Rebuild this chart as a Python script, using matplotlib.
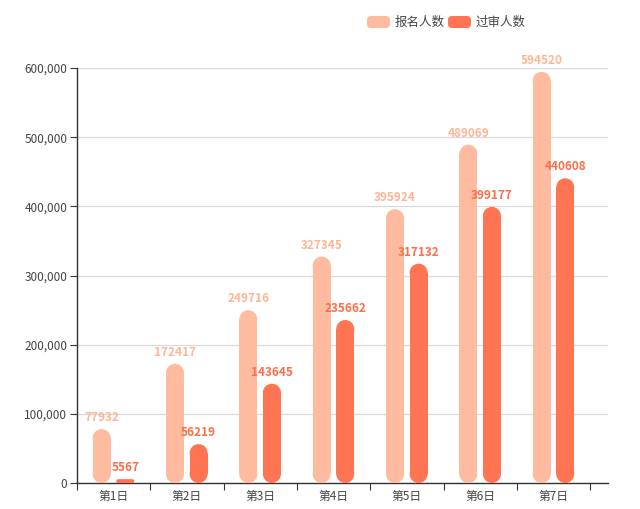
import matplotlib
matplotlib.use("Agg")
import matplotlib.pyplot as plt
from matplotlib.patches import FancyBboxPatch, Rectangle, Ellipse
from matplotlib.ticker import FuncFormatter, FixedLocator
import numpy as np

plt.rcParams['font.family'] = ['Noto Sans CJK SC', 'DejaVu Sans']

days = ['第1日', '第2日', '第3日', '第4日', '第5日', '第6日', '第7日']
signup = [77932, 172417, 249716, 327345, 395924, 489069, 594520]
approved = [5567, 56219, 143645, 235662, 317132, 399177, 440608]
series_names = ['报名人数', '过审人数']

c_light = '#FFBBA0'
c_dark = '#FF7452'
c_light_txt = '#FFB496'
c_dark_txt = '#FF6C48'

W, H = 640, 509
fig = plt.figure(figsize=(W / 100, H / 100), dpi=100)
x0, x1, y0, y1 = 77, 608, 483, 68
ax = fig.add_axes([x0 / W, (H - y0) / H, (x1 - x0) / W, (y0 - y1) / H])

cat_px = 73.33
xmax = (x1 - x0) / cat_px - 0.5
ax.set_xlim(-0.5, xmax)
ax.set_ylim(0, 600000)

# units per pixel
ux = 1 / cat_px
uy = 600000 / (y0 - y1)

bw_px = 18
bw = bw_px * ux
offs = [-12 * ux, 11.6 * ux]
rad_px = bw_px / 2


def pill(xc, val, color):
    h_px = val / uy
    if h_px < 2 * rad_px:
        # too short for full caps: small rounded rect
        r = h_px / 2
        p = FancyBboxPatch((xc - bw / 2, 0), bw, val,
                           boxstyle=f"round,pad=0,rounding_size={r * ux}",
                           mutation_aspect=uy / ux, fc=color, ec='none', zorder=3)
        ax.add_patch(p)
        return
    ry = rad_px * uy
    ax.add_patch(Rectangle((xc - bw / 2, ry), bw, val - 2 * ry,
                           fc=color, ec='none', zorder=3))
    for cy in (ry, val - ry):
        ax.add_patch(Ellipse((xc, cy), bw, 2 * ry, fc=color, ec='none', zorder=3))


for i in range(len(days)):
    for vals, off, col, tcol in [(signup, offs[0], c_light, c_light_txt),
                                 (approved, offs[1], c_dark, c_dark_txt)]:
        xc = i + off
        pill(xc, vals[i], col)
        ax.text(xc, vals[i] + 5 * uy, str(vals[i]), ha='center', va='bottom',
                color=tcol, fontsize=8.5, fontweight='bold', zorder=4)

ax.yaxis.set_major_locator(FixedLocator(np.arange(0, 600001, 100000)))
ax.yaxis.set_major_formatter(FuncFormatter(lambda v, p: f'{int(v):,}'))
ax.grid(axis='y', color='#d9d9d9', linewidth=0.9, zorder=0)
ax.set_axisbelow(True)

ax.set_xticks(np.arange(-0.5, len(days), 1.0))
ax.set_xticklabels([])
ax.set_xticks(np.arange(len(days)), minor=True)
ax.set_xticklabels(days, minor=True)
ax.tick_params(axis='x', which='minor', length=0, pad=5, labelsize=8.5, labelcolor='#444444')
ax.tick_params(axis='x', which='major', length=5, direction='out', color='#333333')
ax.tick_params(axis='y', length=5, direction='out', color='#333333', labelsize=8.5,
               labelcolor='#444444', pad=2)

for s in ['top', 'right']:
    ax.spines[s].set_visible(False)
for s in ['left', 'bottom']:
    ax.spines[s].set_color('#333333')
    ax.spines[s].set_linewidth(1.0)

# legend
leg = [(367, c_light, series_names[0]), (448, c_dark, series_names[1])]
for lx, col, name in leg:
    box = FancyBboxPatch((lx / W, (H - 28) / H), 23 / W, 12 / H,
                         boxstyle=f"round,pad=0,rounding_size={4 / W}",
                         mutation_aspect=W / H, transform=fig.transFigure,
                         fc=col, ec='none')
    fig.add_artist(box)
    fig.text((lx + 28) / W, (H - 22) / H, name, ha='left', va='center',
             fontsize=9, color='#444444')

fig.savefig('out.png', dpi=100)
